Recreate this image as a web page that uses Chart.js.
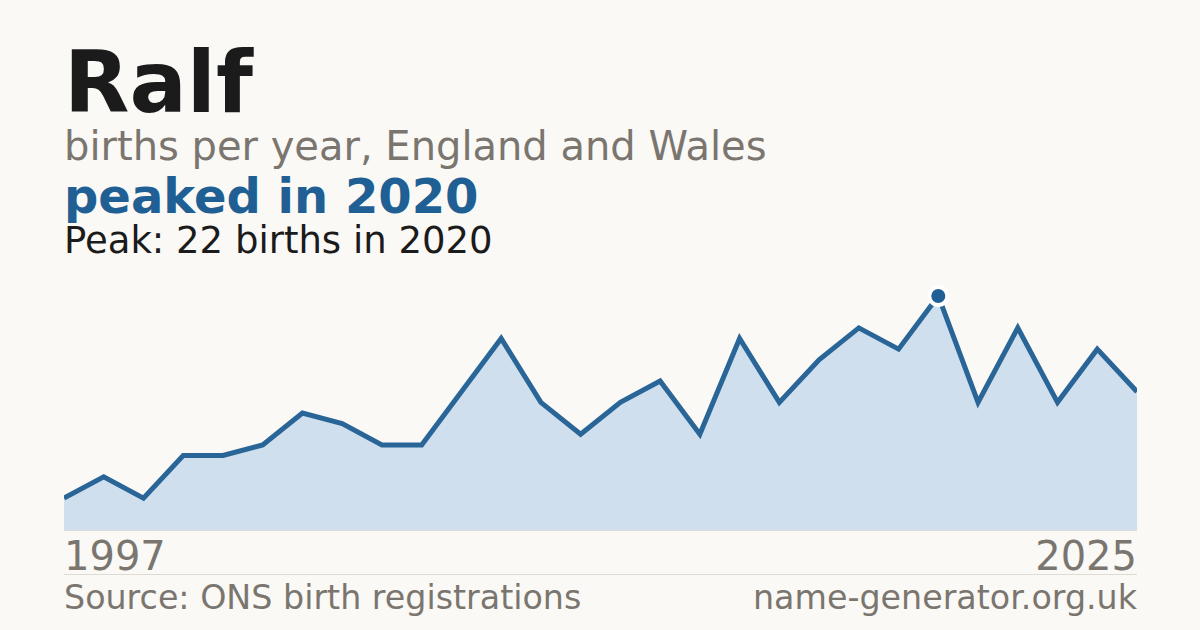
<!DOCTYPE html>
<html>
<head>
<meta charset="utf-8">
<script src="https://cdn.jsdelivr.net/npm/chart.js@4.4.1/dist/chart.umd.min.js"></script>
<style>
  html, body { margin:0; padding:0; }
  body { width:1200px; height:630px; background:#faf9f5; position:relative; overflow:hidden; font-family:"DejaVu Sans", sans-serif; }
  .t { position:absolute; line-height:1; white-space:nowrap; }
  #title { left:64px; top:40px; font-size:85px; font-weight:bold; color:#1b1b1b; }
  #sub { left:64px; top:126px; font-size:40px; color:#7a766f; }
  #peaked { left:64px; top:172px; font-size:48px; font-weight:bold; color:#1f5f94; }
  #peak { left:64px; top:222px; font-size:37px; color:#1b1b1b; }
  #y0 { left:64px; top:536px; font-size:40px; color:#7a766f; }
  #y1 { right:63px; top:536px; font-size:40px; color:#7a766f; }
  #src { left:64px; top:581px; font-size:33.3px; color:#7a766f; }
  #site { right:63px; top:581px; font-size:33.3px; color:#7a766f; }
  #sep { position:absolute; left:64px; width:1073px; top:574px; height:1px; background:#dedbd4; }
  #base { position:absolute; left:64px; width:1073px; top:530px; height:1px; background:#dcdcdc; }
  #wrap { position:absolute; left:64px; top:280px; width:1073px; height:250px; }
</style>
</head>
<body>
<div class="t" id="title">Ralf</div>
<div class="t" id="sub">births per year, England and Wales</div>
<div class="t" id="peaked">peaked in 2020</div>
<div class="t" id="peak">Peak: 22 births in 2020</div>
<div id="wrap"><canvas id="c" width="1073" height="250"></canvas></div>
<div id="base"></div>
<div class="t" id="y0">1997</div>
<div class="t" id="y1">2025</div>
<div id="sep"></div>
<div class="t" id="src">Source: ONS birth registrations</div>
<div class="t" id="site">name-generator.org.uk</div>
<script>
const years = [1997,1998,1999,2000,2001,2003,2004,2005,2006,2007,2008,2009,2010,2011,2012,2013,2014,2015,2016,2017,2018,2019,2020,2021,2022,2023,2024,2025];
const births = [3,5,3,7,7,8,11,10,8,8,13,18,12,9,12,14,9,18,12,16,19,17,22,12,19,12,17,13];
const peakIndex = births.indexOf(Math.max(...births));

new Chart(document.getElementById('c'), {
  type: 'line',
  data: {
    labels: years.map(String),
    datasets: [{
      data: births,
      borderColor: '#2a6598',
      borderWidth: 5,
      backgroundColor: '#cfdfee',
      fill: 'origin',
      tension: 0,
      clip: false,
      pointRadius: ctx => ctx.dataIndex === peakIndex ? 9 : 0,
      pointHoverRadius: ctx => ctx.dataIndex === peakIndex ? 9 : 0,
      pointBackgroundColor: '#1f5f94',
      pointBorderColor: '#ffffff',
      pointBorderWidth: 4
    }]
  },
  options: {
    responsive: false,
    animation: false,
    devicePixelRatio: 1,
    layout: { padding: 0 },
    plugins: { legend: { display: false }, tooltip: { enabled: false } },
    scales: {
      x: { display: false, offset: false },
      y: { display: false, min: 0, max: 23.5 }
    }
  }
});
</script>
</body>
</html>
